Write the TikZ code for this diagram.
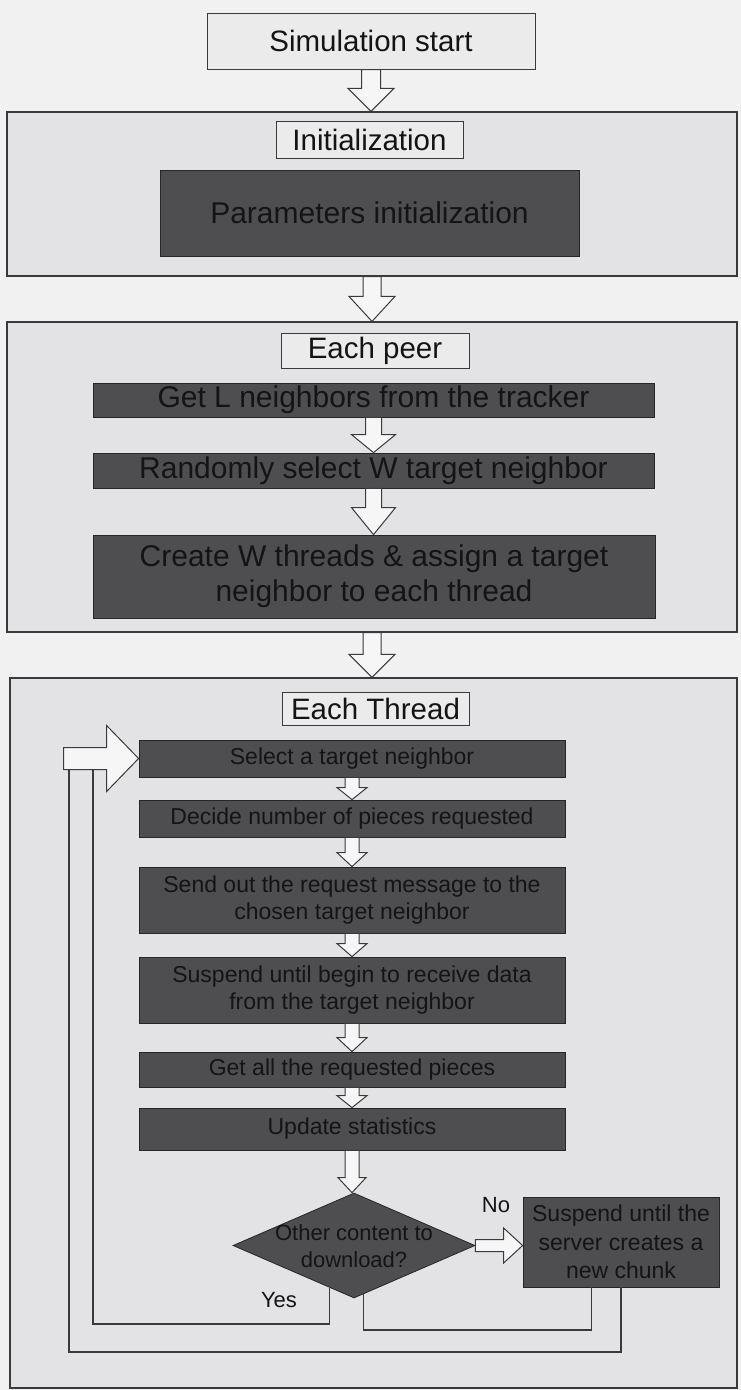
\documentclass[tikz,border=0pt]{standalone}
\usepackage{fontspec}
\setmainfont{Liberation Sans}
\usetikzlibrary{calc,shapes.geometric}
\definecolor{pagebg}{HTML}{F1F1F2}
\definecolor{panelbg}{HTML}{E3E3E6}
\definecolor{lightbg}{HTML}{EBEBEC}
\definecolor{darkbg}{HTML}{4E4D50}
\definecolor{edge}{HTML}{3A3A3C}
\definecolor{ink}{HTML}{141414}
\definecolor{blkfill}{HTML}{F6F6F6}

\tikzset{
  panel/.style={draw=edge, line width=1.2pt, fill=panelbg, inner sep=0pt},
  lightbox/.style={draw=edge, line width=1pt, fill=lightbg, text=ink, inner sep=0pt, font=\fontsize{29.5}{35}\selectfont},
  darkbox/.style={draw=black!85, line width=0.8pt, fill=darkbg, text=ink, inner sep=0pt, align=center, font=\fontsize{30}{35}\selectfont},
  smallbox/.style={darkbox, font=\fontsize{23}{26.5}\selectfont},
  blk/.style={draw=edge, line width=1pt, fill=blkfill, line join=miter},
  conn/.style={draw=edge, line width=1.2pt},
  lbl/.style={text=ink, inner sep=0pt, font=\fontsize{22}{27}\selectfont},
}

% vertical hollow block arrow: from node anchor #1 down to #2
\newcommand\vblk[5]{\path[blk] let \p1=(#1), \p2=(#2) in
  (\x1-#3,\y1) -- (\x1+#3,\y1) -- (\x1+#3,\y2+#5) -- (\x1+#4,\y2+#5) -- (\x1,\y2)
  -- (\x1-#4,\y2+#5) -- (\x1-#3,\y2+#5) -- cycle;}
% horizontal hollow block arrow: from #1 right to #2
\newcommand\hblk[5]{\path[blk] let \p1=(#1), \p2=(#2) in
  (\x1,\y1+#3) -- (\x2-#5,\y1+#3) -- (\x2-#5,\y1+#4) -- (\x2,\y1) -- (\x2-#5,\y1-#4)
  -- (\x2-#5,\y1-#3) -- (\x1,\y1-#3) -- cycle;}

\begin{document}
\begin{tikzpicture}[x=1pt,y=-1pt]
\useasboundingbox (0,0) rectangle (741,1390);
\fill[pagebg] (0,0) rectangle (741,1390);

% start
\node[lightbox, minimum width=328, minimum height=56] (start) at (371,41) {Simulation start};

% panel 1
\node[panel, minimum width=730, minimum height=164] (p1) at (372,194) {};
\node[lightbox, minimum width=187, minimum height=37] (initlbl) at (369.5,139.5) {Initialization};
\node[darkbox, minimum width=419, minimum height=86] (params) at (369.5,213) {Parameters initialization};

% panel 2
\node[panel, minimum width=730, minimum height=310] (p2) at (372,477) {};
\node[lightbox, minimum width=188, minimum height=35] (peerlbl) at (375,350.5) {Each peer};
\node[darkbox, minimum width=561, minimum height=34] (getl) at (373.5,400) {Get L neighbors from the tracker};
\node[darkbox, minimum width=561, minimum height=35] (rand) at (373.5,470.5) {Randomly select W target neighbor};
\node[darkbox, minimum width=562, minimum height=83] (create) at (374,576.5) {Create W threads \& assign a target\\neighbor to each thread};

% panel 3
\node[panel, minimum width=727, minimum height=710] (p3) at (373.5,1033) {};
\node[lightbox, minimum width=187, minimum height=33] (thrlbl) at (375.5,708.5) {Each Thread};
\node[smallbox, minimum width=426, minimum height=37] (select) at (352,758.5) {Select a target neighbor};
\node[smallbox, minimum width=426, minimum height=37] (decide) at (352,818.5) {Decide number of pieces requested};
\node[smallbox, minimum width=426, minimum height=66] (send) at (352,900) {Send out the request message to the\\chosen target neighbor};
\node[smallbox, minimum width=426, minimum height=66] (susp1) at (352,990) {Suspend until begin to receive data\\from the target neighbor};
\node[smallbox, minimum width=426, minimum height=35] (getall) at (352,1069.5) {Get all the requested pieces};
\node[smallbox, minimum width=426, minimum height=42] (update) at (352,1129) {Update statistics};
\node[diamond, draw=black!85, line width=0.8pt, fill=darkbg, minimum width=242, minimum height=105, inner sep=0pt] (dia) at (354,1245.5) {};
\node[lbl, align=center] (diatext) at (354,1246) {Other content to\\download?};
\node[smallbox, minimum width=196, minimum height=90, font=\fontsize{23}{28.5}\selectfont] (susp2) at (621,1242) {Suspend until the\\server creates a\\new chunk};
\node[lbl] (nolbl) at (496,1205) {No};
\node[lbl] (yeslbl) at (279,1300) {Yes};

% block arrows between stages
\vblk{start.south}{p1.north}{9.5pt}{23pt}{23pt}
\vblk{p1.south}{p2.north}{9pt}{23pt}{25pt}
\vblk{getl.south}{rand.north}{8pt}{22pt}{18pt}
\vblk{rand.south}{create.north}{8pt}{22pt}{27pt}
\vblk{p2.south}{p3.north}{9pt}{23pt}{23pt}
\vblk{select.south}{decide.north}{7pt}{15pt}{12pt}
\vblk{decide.south}{send.north}{7pt}{15pt}{14pt}
\vblk{send.south}{susp1.north}{7pt}{15pt}{13pt}
\vblk{susp1.south}{getall.north}{7pt}{15pt}{14pt}
\vblk{getall.south}{update.north}{7pt}{15pt}{12pt}
\vblk{update.south}{dia.north}{7pt}{14pt}{15pt}
\hblk{dia.east}{susp2.west}{6pt}{17.5pt}{19pt}

% loop back lines
\coordinate (lpA) at (93,770);
\coordinate (lpC) at (69,770);
\coordinate (abot) at (0,1324);
\coordinate (bbot) at (0,1330);
\coordinate (cbot) at (0,1352);
\coordinate (yesend) at ($(dia.west)!0.8!(dia.south)$);
\coordinate (noend) at ($(dia.south)!0.08!(dia.east)$);
\coordinate (s2a) at ($(susp2.south west)!0.35!(susp2.south east)$);
\draw[conn] (yesend) -- (yesend |- abot) -| (lpA);
\draw[conn] (noend) -- (noend |- bbot) -| (s2a);
\draw[conn] (susp2.south) -- (susp2.south |- cbot) -| (lpC);

% loop-back hollow arrow into "Select a target neighbor"
\path[blk] let \p1=(select.west) in
  (\x1-75pt,\y1+11pt) -- (\x1-32pt,\y1+11pt) -- (\x1-32pt,\y1+33pt) -- (\x1,\y1)
  -- (\x1-32pt,\y1-33pt) -- (\x1-32pt,\y1-11pt) -- (\x1-75pt,\y1-11pt) -- cycle;
\end{tikzpicture}
\end{document}
